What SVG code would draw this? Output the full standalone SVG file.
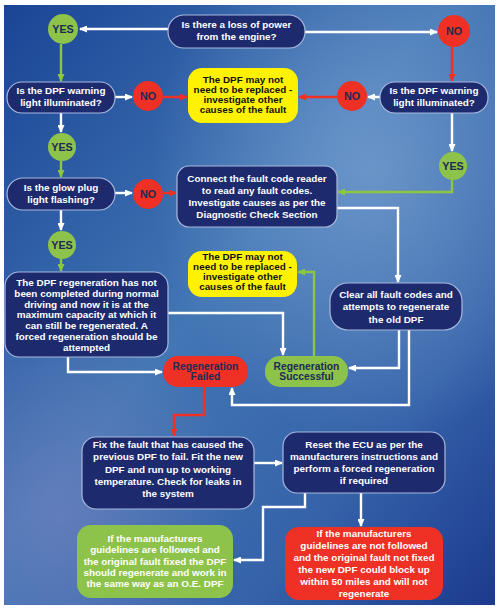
<svg xmlns="http://www.w3.org/2000/svg" width="499" height="610" viewBox="0 0 499 610">
<defs>
<linearGradient id="bg" x1="0" y1="0" x2="1" y2="1">
<stop offset="0" stop-color="#1a4596"/>
<stop offset="0.45" stop-color="#4276b4"/>
<stop offset="0.75" stop-color="#3562a9"/>
<stop offset="1" stop-color="#1c3a8e"/>
</linearGradient>
<radialGradient id="glow1" cx="0.75" cy="0.28" r="0.45">
<stop offset="0" stop-color="#86acd8" stop-opacity="0.6"/>
<stop offset="1" stop-color="#86acd8" stop-opacity="0"/>
</radialGradient>
<radialGradient id="glow2" cx="0.12" cy="0.85" r="0.35">
<stop offset="0" stop-color="#8a88c4" stop-opacity="0.45"/>
<stop offset="1" stop-color="#8a88c4" stop-opacity="0"/>
</radialGradient>
<marker id="aw" markerUnits="userSpaceOnUse" markerWidth="8" markerHeight="7" refX="7" refY="3.5" orient="auto"><path d="M0,0 L8,3.5 L0,7 z" fill="#ffffff"/></marker>
<marker id="ag" markerUnits="userSpaceOnUse" markerWidth="8" markerHeight="7" refX="7" refY="3.5" orient="auto"><path d="M0,0 L8,3.5 L0,7 z" fill="#8dc63f"/></marker>
<marker id="ar" markerUnits="userSpaceOnUse" markerWidth="8" markerHeight="7" refX="7" refY="3.5" orient="auto"><path d="M0,0 L8,3.5 L0,7 z" fill="#ee3124"/></marker>
<style>
text{font-family:"Liberation Sans",Arial,sans-serif;font-weight:bold;font-size:9.9px;text-anchor:middle}
.n rect{fill:#1d2b6e;stroke:#a8b8dc;stroke-width:1.2}
.n text{fill:#ffffff}
.y rect{fill:#fff200}
.y text{fill:#111111}
.gc circle,.gb rect{fill:#8dc34a}
.gc text{fill:#1c2a55;font-size:10.8px}
.rc circle,.rb rect{fill:#ee3124}
.rc text{fill:#1c2a55;font-size:10.8px}
.gb text{fill:#ffffff}
.rb text{fill:#ffffff}
.dk text{fill:#1c2a55;font-size:10.3px}
.c path{fill:none;stroke-width:2.4;stroke-linejoin:miter}
.w{stroke:#ffffff;marker-end:url(#aw)}
.g{stroke:#8dc63f;marker-end:url(#ag)}
.r{stroke:#ee3124;marker-end:url(#ar)}
</style>
</defs>
<rect x="0" y="0" width="499" height="610" fill="#ffffff"/>
<rect x="4" y="5" width="491" height="600" fill="url(#bg)"/>
<rect x="4" y="5" width="491" height="600" fill="url(#glow1)"/>
<rect x="4" y="5" width="491" height="600" fill="url(#glow2)"/>

<g id="connectors" class="c">
<path class="w" d="M168,29 H80"/>
<path class="w" d="M305,32 H437"/>
<path class="g" d="M61,44 V81"/>
<path class="w" d="M115,97 H132"/>
<path class="r" d="M163,97 H187"/>
<path class="r" d="M452,47 V81"/>
<path class="w" d="M380,97 H368"/>
<path class="r" d="M337,97 H299"/>
<path class="w" d="M61,113 V132"/>
<path class="g" d="M61,161 V177"/>
<path class="w" d="M115,193 H132"/>
<path class="r" d="M163,193 H176"/>
<path class="w" d="M452,113 V151"/>
<path class="g" d="M452,180 V192 H338"/>
<path class="w" d="M337,208 H398 V282"/>
<path class="w" d="M61,210 V230"/>
<path class="g" d="M61,259 V271"/>
<path class="w" d="M168,313 H283 V355"/>
<path class="g" d="M314,356 V272 H298"/>
<path class="w" d="M399,330 V368 H349"/>
<path class="w" d="M409,330 V405 H232 V388"/>
<path class="w" d="M68,357 V372 H162"/>
<path class="r" d="M204,387 V415 H174 V436"/>
<path class="w" d="M254,463 H282"/>
<path class="w" d="M361,493 V526"/>
<path class="w" d="M305,493 V507 H263 V560 H234"/>
</g>

<g id="q1" class="n"><rect x="168" y="15" width="137" height="33" rx="16"/><text x="236.5" y="28">Is there a loss of power</text><text x="236.5" y="40">from the engine?</text></g>
<g id="yes1" class="gc"><circle cx="63" cy="29" r="15"/><text x="63" y="33">YES</text></g>
<g id="no1" class="rc"><circle cx="454" cy="31" r="16"/><text x="454" y="35">NO</text></g>
<g id="q2L" class="n"><rect x="7" y="82" width="108" height="31" rx="15"/><text x="61" y="94">Is the DPF warning</text><text x="61" y="106">light illuminated?</text></g>
<g id="noL" class="rc"><circle cx="148" cy="96" r="15"/><text x="148" y="100">NO</text></g>
<g id="yellow1" class="y"><rect x="188" y="68" width="110" height="55" rx="14"/><text x="243" y="82.5">The DPF may not</text><text x="243" y="92.5">need to be replaced -</text><text x="243" y="102.5">investigate other</text><text x="243" y="112.5">causes of the fault</text></g>
<g id="noR" class="rc"><circle cx="352" cy="96" r="15"/><text x="352" y="100">NO</text></g>
<g id="q2R" class="n"><rect x="380" y="82" width="108" height="31" rx="15"/><text x="434" y="94">Is the DPF warning</text><text x="434" y="106">light illuminated?</text></g>
<g id="yes2" class="gc"><circle cx="62" cy="147" r="14"/><text x="62" y="151">YES</text></g>
<g id="yesR" class="gc"><circle cx="453" cy="166" r="14"/><text x="453" y="170">YES</text></g>
<g id="glow" class="n"><rect x="7" y="178" width="108" height="32" rx="16"/><text x="61" y="190.5">Is the glow plug</text><text x="61" y="202.5">light flashing?</text></g>
<g id="noG" class="rc"><circle cx="148" cy="194" r="15"/><text x="148" y="198">NO</text></g>
<g id="connect" class="n"><rect x="177" y="166" width="160" height="61" rx="12"/><text x="257" y="182">Connect the fault code reader</text><text x="257" y="194">to read any fault codes.</text><text x="257" y="206">Investigate causes as per the</text><text x="257" y="218">Diagnostic Check Section</text></g>
<g id="yes3" class="gc"><circle cx="62" cy="245" r="14"/><text x="62" y="249">YES</text></g>
<g id="regen" class="n"><rect x="5" y="272" width="163" height="85" rx="14"/><text x="86.5" y="285.5">The DPF regeneration has not</text><text x="86.5" y="296.5">been completed during normal</text><text x="86.5" y="307.5">driving and now it is at the</text><text x="86.5" y="318">maximum capacity at which it</text><text x="86.5" y="328.5">can still be regenerated. A</text><text x="86.5" y="339.5">forced regeneration should be</text><text x="86.5" y="350.5">attempted</text></g>
<g id="yellow2" class="y"><rect x="188" y="251" width="109" height="46" rx="14"/><text x="242.5" y="259.5">The DPF may not</text><text x="242.5" y="269.5">need to be replaced -</text><text x="242.5" y="279.5">investigate other</text><text x="242.5" y="289.5">causes of the fault</text></g>
<g id="clear" class="n"><rect x="330" y="283" width="132" height="47" rx="18"/><text x="396" y="297.5">Clear all fault codes and</text><text x="396" y="310">attempts to regenerate</text><text x="396" y="322.5">the old DPF</text></g>
<g id="success" class="gb dk"><rect x="265" y="356" width="83" height="31" rx="15"/><text x="306.5" y="369.5">Regeneration</text><text x="306.5" y="380">Successful</text></g>
<g id="failed" class="rb dk"><rect x="163" y="356" width="85" height="31" rx="15"/><text x="205.5" y="369.5">Regeneration</text><text x="205.5" y="380">Failed</text></g>
<g id="fix" class="n"><rect x="82" y="437" width="172" height="72" rx="14"/><text x="168" y="448">Fix the fault that has caused the</text><text x="168" y="460.3">previous DPF to fail. Fit the new</text><text x="168" y="472.6">DPF and run up to working</text><text x="168" y="484.9">temperature. Check for leaks in</text><text x="168" y="497.2">the system</text></g>
<g id="reset" class="n"><rect x="283" y="432" width="162" height="61" rx="14"/><text x="364" y="447.5">Reset the ECU as per the</text><text x="364" y="459.7">manufacturers instructions and</text><text x="364" y="471.9">perform a forced regeneration</text><text x="364" y="484.1">if required</text></g>
<g id="notfollowed" class="rb"><rect x="285" y="527" width="158" height="73" rx="14"/><text x="364" y="536.5">If the manufacturers</text><text x="364" y="548.6">guidelines are not followed</text><text x="364" y="560.7">and the original fault not fixed</text><text x="364" y="572.8">the new DPF could block up</text><text x="364" y="584.9">within 50 miles and will not</text><text x="364" y="597">regenerate</text></g>
<g id="followed" class="gb"><rect x="77" y="525" width="156" height="73" rx="14"/><text x="155" y="542">If the manufacturers</text><text x="155" y="553.3">guidelines are followed and</text><text x="155" y="564.6">the original fault fixed the DPF</text><text x="155" y="575.9">should regenerate and work in</text><text x="155" y="587.2">the same way as an O.E. DPF</text></g>
</svg>
